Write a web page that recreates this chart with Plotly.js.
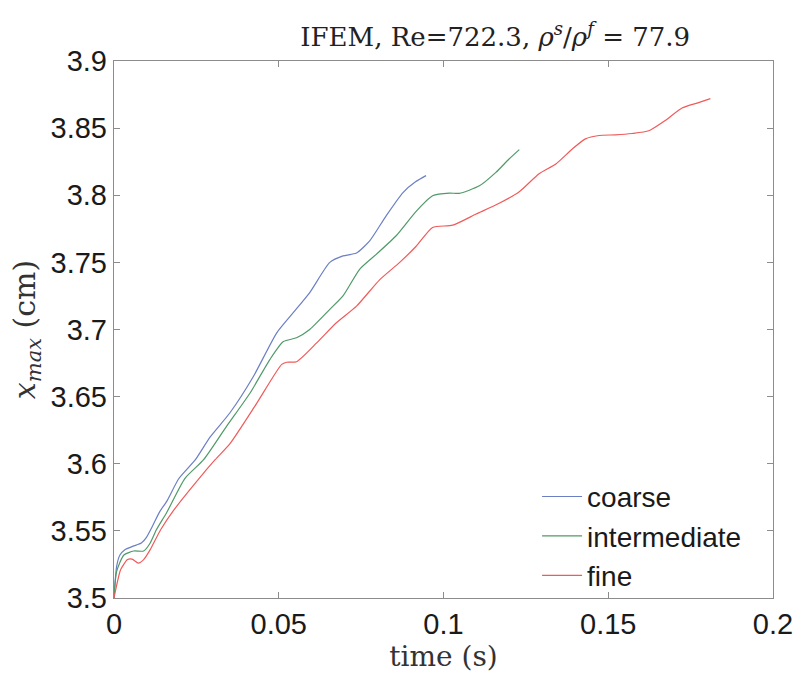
<!DOCTYPE html>
<html>
<head>
<meta charset="utf-8">
<script src="https://cdn.plot.ly/plotly-3.0.1.min.js"></script>
<style>html,body{margin:0;padding:0;background:#fff;}#chart{width:800px;height:673px;}</style>
</head>
<body>
<div id="chart"></div>
<script>
const coarseT = [0, 0.0008, 0.0018, 0.0033, 0.0058, 0.0083, 0.0098, 0.0117, 0.0138, 0.016, 0.0197, 0.0247, 0.0292, 0.0352, 0.0423, 0.0494, 0.0544, 0.0594, 0.0655, 0.0695, 0.0736, 0.0776, 0.0826, 0.0877, 0.0915, 0.0947];
const coarseY = [3.5, 3.5236, 3.532, 3.536, 3.5386, 3.541, 3.545, 3.5536, 3.564, 3.572, 3.589, 3.603, 3.620, 3.638, 3.665, 3.6975, 3.7125, 3.7275, 3.750, 3.7548, 3.757, 3.766, 3.7847, 3.802, 3.810, 3.8146];

const interT = [0, 0.0008, 0.003, 0.006, 0.009, 0.011, 0.0129, 0.016, 0.0215, 0.0272, 0.0342, 0.0413, 0.0473, 0.0514, 0.0554, 0.0594, 0.0655, 0.0695, 0.0746, 0.0796, 0.0857, 0.0917, 0.0967, 0.1018, 0.1048, 0.1109, 0.1159, 0.1199, 0.123];
const interY = [3.5, 3.5198, 3.532, 3.535, 3.535, 3.541, 3.551, 3.5637, 3.589, 3.603, 3.628, 3.6527, 3.6776, 3.691, 3.6938, 3.700, 3.715, 3.725, 3.745, 3.756, 3.770, 3.788, 3.7996, 3.8016, 3.8014, 3.807, 3.817, 3.827, 3.834];

const fineT = [0, 0.0005, 0.002, 0.0041, 0.0055, 0.0074, 0.009, 0.011, 0.0142, 0.0183, 0.0258, 0.0307, 0.0352, 0.0433, 0.0509, 0.0524, 0.0554, 0.0615, 0.0675, 0.0736, 0.0806, 0.0867, 0.0917, 0.0967, 0.1028, 0.1099, 0.1169, 0.123, 0.129, 0.1341, 0.1391, 0.1431, 0.1472, 0.1522, 0.1572, 0.1623, 0.1673, 0.1724, 0.1774, 0.181];
const fineY = [3.5, 3.506, 3.521, 3.5286, 3.529, 3.526, 3.5286, 3.536, 3.551, 3.566, 3.589, 3.603, 3.615, 3.645, 3.674, 3.6756, 3.676, 3.690, 3.705, 3.7174, 3.737, 3.750, 3.762, 3.776, 3.7777, 3.786, 3.794, 3.8026, 3.816, 3.8233, 3.8345, 3.842, 3.8445, 3.845, 3.846, 3.848, 3.8557, 3.865, 3.869, 3.872];

const seriesNames = ['coarse', 'intermediate', 'fine'];
const seriesColors = ['#6b7fc4', '#4f9a68', '#f05a5a'];
const xTicks = [0, 0.05, 0.1, 0.15, 0.2];
const yTicks = [3.5, 3.55, 3.6, 3.65, 3.7, 3.75, 3.8, 3.85, 3.9];

const data = [[coarseT, coarseY], [interT, interY], [fineT, fineY]].map((d, i) => ({
  x: d[0], y: d[1], type: 'scatter', mode: 'lines', name: seriesNames[i],
  line: {color: seriesColors[i], width: 1.2, shape: 'spline', smoothing: 0.6}
}));

const serif = 'DejaVu Serif, Liberation Serif, serif';
const sans = 'Liberation Sans, Arial, sans-serif';

const axisCommon = {
  showgrid: false, zeroline: false, showline: true, mirror: 'ticks',
  linecolor: '#8c8c8c', linewidth: 1.2, ticks: 'inside', ticklen: 6,
  tickcolor: '#8c8c8c', tickfont: {family: sans, size: 29, color: '#1a1a1a'}
};

const layout = {
  width: 800, height: 673,
  margin: {l: 114, r: 27, t: 61, b: 75},
  paper_bgcolor: '#fff', plot_bgcolor: '#fff',
  title: {
    text: 'IFEM, Re=722.3, <i>ρ</i><sup><i>s</i></sup>/<i>ρ</i><sup><i>f</i></sup> = 77.9',
    font: {family: serif, size: 26, color: '#222'},
    x: 0.619, xanchor: 'center', y: 0.945, yanchor: 'middle'
  },
  xaxis: Object.assign({}, axisCommon, {
    range: [0, 0.2], tickvals: xTicks, ticktext: xTicks.map(String),
    title: {text: 'time (s)', font: {family: serif, size: 28, color: '#333'}, standoff: 0}
  }),
  yaxis: Object.assign({}, axisCommon, {
    range: [3.5, 3.9], tickvals: yTicks, ticktext: yTicks.map(String),
    title: {text: '<i>x</i><sub><i>max</i></sub> (cm)', font: {family: serif, size: 30, color: '#333'}, standoff: 6}
  }),
  showlegend: true,
  legend: {
    x: 0.642, y: 0.235, xanchor: 'left', yanchor: 'top',
    bgcolor: 'rgba(0,0,0,0)', borderwidth: 0,
    font: {family: sans, size: 28, color: '#1a1a1a'},
    itemwidth: 40, tracegroupgap: 0
  }
};

Plotly.newPlot('chart', data, layout, {displayModeBar: false, staticPlot: true});
</script>
</body>
</html>
